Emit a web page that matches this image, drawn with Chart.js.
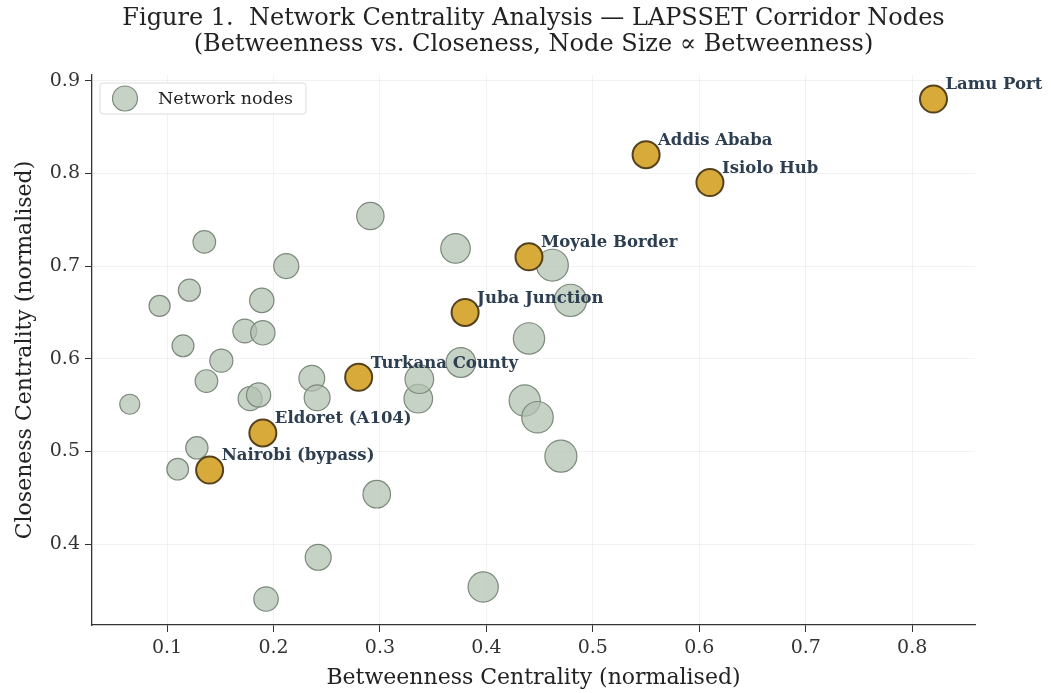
<!DOCTYPE html>
<html>
<head>
<meta charset="utf-8">
<script src="https://cdn.jsdelivr.net/npm/chart.js@4.4.1/dist/chart.umd.min.js"></script>
<style>
  html, body { margin: 0; padding: 0; background: #fff; }
  #wrap { width: 1051px; height: 693px; }
</style>
</head>
<body>
<div id="wrap"><canvas id="graph-scatter" width="1051" height="693"></canvas></div>
<script>
// other corridor nodes (betweenness, closeness)
var nodeBetweenness = [0.065, 0.093, 0.110, 0.115, 0.121, 0.128, 0.135, 0.137, 0.151, 0.173, 0.178,
    0.186, 0.189, 0.190, 0.193, 0.212, 0.236, 0.241, 0.242, 0.291, 0.297, 0.336, 0.337, 0.371,
    0.376, 0.397, 0.436, 0.440, 0.448, 0.462, 0.470, 0.479];
var nodeCloseness = [0.551, 0.657, 0.481, 0.614, 0.674, 0.504, 0.726, 0.576, 0.598, 0.630, 0.557,
    0.561, 0.663, 0.628, 0.341, 0.700, 0.579, 0.558, 0.386, 0.754, 0.454, 0.557, 0.578, 0.719,
    0.596, 0.354, 0.555, 0.622, 0.537, 0.701, 0.495, 0.663];

// key named nodes
var keyNames = ['Lamu Port', 'Addis Ababa', 'Isiolo Hub', 'Moyale Border', 'Juba Junction',
    'Turkana County', 'Eldoret (A104)', 'Nairobi (bypass)'];
var keyBetweenness = [0.82, 0.55, 0.61, 0.44, 0.38, 0.28, 0.19, 0.14];
var keyCloseness = [0.88, 0.82, 0.79, 0.71, 0.65, 0.58, 0.52, 0.48];

var xTicks = [0.1, 0.2, 0.3, 0.4, 0.5, 0.6, 0.7, 0.8];
var yTicks = [0.4, 0.5, 0.6, 0.7, 0.8, 0.9];

var titleLines = ['Figure 1.  Network Centrality Analysis \u2014 LAPSSET Corridor Nodes',
    '(Betweenness vs. Closeness, Node Size \u221d Betweenness)'];

var SERIF = "'DejaVu Serif', serif";
var grayFill = 'rgba(178, 192, 178, 0.72)';
var grayEdge = '#7b897b';

createGraphScatter();

function toPoints(xs, ys) {
    return xs.map(function (x, i) { return { x: x, y: ys[i] }; });
}

function nodeRadius(ctx) {
    var p = ctx.raw;
    return p ? Math.sqrt(75 + 385 * p.x) : 10;
}

function createGraphScatter() {
    var ctx = document.getElementById('graph-scatter').getContext('2d');

    var data = {
        datasets: [{
            label: 'Key nodes',
            data: toPoints(keyBetweenness, keyCloseness),
            backgroundColor: '#d8aa3a',
            borderColor: '#55421c',
            borderWidth: 2,
            pointRadius: 13.5,
            order: 0
        }, {
            label: 'Network nodes',
            data: toPoints(nodeBetweenness, nodeCloseness),
            backgroundColor: grayFill,
            borderColor: grayEdge,
            borderWidth: 1.2,
            pointRadius: nodeRadius,
            order: 1
        }]
    };

    // title centred over the plot area, like the original figure
    var titlePlugin = {
        id: 'axesTitle',
        afterDraw: function (chart) {
            var c = chart.ctx;
            var a = chart.chartArea;
            var cx = (a.left + a.right) / 2;
            c.save();
            c.font = '24px ' + SERIF;
            c.fillStyle = '#222';
            c.textAlign = 'center';
            c.textBaseline = 'middle';
            c.fillText(titleLines[0], cx, 19);
            c.fillText(titleLines[1], cx, 45);
            c.restore();
        }
    };

    var labelPlugin = {
        id: 'keyLabels',
        afterDatasetsDraw: function (chart) {
            var c = chart.ctx;
            var xs = chart.scales.x, ys = chart.scales.y;
            c.save();
            c.font = 'bold 16.5px ' + SERIF;
            c.fillStyle = '#2c3e50';
            c.textAlign = 'left';
            c.textBaseline = 'middle';
            keyNames.forEach(function (name, i) {
                var px = xs.getPixelForValue(keyBetweenness[i]);
                var py = ys.getPixelForValue(keyCloseness[i]);
                c.fillText(name, px + 12, py - 14);
            });
            c.restore();
        }
    };

    var legendPlugin = {
        id: 'boxLegend',
        afterDraw: function (chart) {
            var c = chart.ctx;
            var a = chart.chartArea;
            var x0 = a.left + 8, y0 = a.top + 8, w = 206, h = 31;
            c.save();
            c.fillStyle = 'rgba(255,255,255,0.85)';
            c.strokeStyle = '#dcdcdc';
            c.lineWidth = 1;
            c.beginPath();
            c.roundRect(x0, y0, w, h, 3);
            c.fill();
            c.stroke();
            c.beginPath();
            c.arc(x0 + 25, y0 + h / 2, 12.5, 0, Math.PI * 2);
            c.fillStyle = grayFill;
            c.fill();
            c.lineWidth = 1.2;
            c.strokeStyle = grayEdge;
            c.stroke();
            c.font = '17.5px ' + SERIF;
            c.fillStyle = '#222';
            c.textBaseline = 'middle';
            c.fillText('Network nodes', x0 + 58, y0 + h / 2 + 1);
            c.restore();
        }
    };

    var options = {
        responsive: false,
        animation: false,
        layout: { padding: { left: 0, right: 76, top: 75, bottom: 0 } },
        plugins: {
            legend: { display: false },
            tooltip: { enabled: false },
            title: { display: false }
        },
        scales: {
            x: {
                type: 'linear',
                min: 0.0295,
                max: 0.859,
                afterBuildTicks: function (axis) {
                    axis.ticks = xTicks.map(function (v) { return { value: v }; });
                },
                afterFit: function (axis) { axis.height = 68; },
                ticks: {
                    color: '#333',
                    font: { family: SERIF, size: 19 },
                    padding: 5,
                    callback: function (v) { return v.toFixed(1); }
                },
                grid: { color: 'rgba(0,0,0,0.05)', tickColor: '#333', tickLength: 7 },
                border: { color: '#333', width: 1.3 },
                title: {
                    display: true,
                    text: 'Betweenness Centrality (normalised)',
                    color: '#222',
                    font: { family: SERIF, size: 22 },
                    padding: { top: 0, bottom: 2 }
                }
            },
            y: {
                type: 'linear',
                min: 0.313,
                max: 0.906,
                afterBuildTicks: function (axis) {
                    axis.ticks = yTicks.map(function (v) { return { value: v }; });
                },
                afterFit: function (axis) { axis.width = 92; },
                ticks: {
                    color: '#333',
                    font: { family: SERIF, size: 19 },
                    padding: 5,
                    callback: function (v) { return v.toFixed(1); }
                },
                grid: { color: 'rgba(0,0,0,0.05)', tickColor: '#333', tickLength: 7 },
                border: { color: '#333', width: 1.3 },
                title: {
                    display: true,
                    text: 'Closeness Centrality (normalised)',
                    color: '#222',
                    font: { family: SERIF, size: 22 },
                    padding: { top: 12, bottom: 0 }
                }
            }
        }
    };

    var chart = new Chart(ctx, {
        type: 'scatter',
        data: data,
        options: options,
        plugins: [titlePlugin, labelPlugin, legendPlugin]
    });
}
</script>
</body>
</html>
